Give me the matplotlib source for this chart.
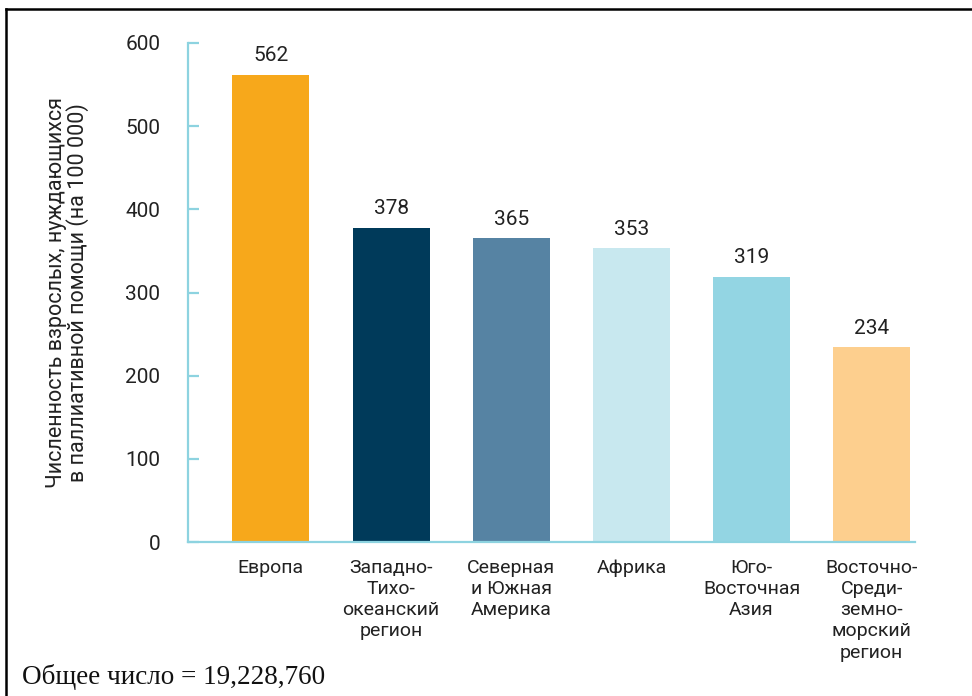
import matplotlib
matplotlib.use("Agg")
import matplotlib.pyplot as plt
from matplotlib.lines import Line2D

categories = ["Европа", "Западно-\nТихо-\nокеанский\nрегион", "Северная\nи Южная\nАмерика",
              "Африка", "Юго-\nВосточная\nАзия", "Восточно-\nСреди-\nземно-\nморский\nрегион"]
values = [562, 378, 365, 353, 319, 234]
colors = ["#F7A81B", "#003A5A", "#5683A3", "#C8E8EF", "#93D5E3", "#FDCF8E"]
yticks = [0, 100, 200, 300, 400, 500, 600]
ylabel = "Численность взрослых, нуждающихся\nв паллиативной помощи (на 100 000)"
footer = "Общее число = 19,228,760"

plt.rcParams['font.family'] = ['Roboto', 'DejaVu Sans']

fig = plt.figure(figsize=(9.72, 6.96), dpi=100)
ax = fig.add_axes([188/972, 1-542/696, (915-188)/972, (542-43)/696])

x = list(range(len(categories)))
bars = ax.bar(x, values, width=0.64, color=colors, zorder=2)
for xi, v in zip(x, values):
    ax.annotate(str(v), (xi, v), xytext=(0, 7), textcoords='offset points',
                ha='center', va='bottom', fontsize=15, color='#222222')

ax.set_xlim(-0.69, 5.36)
ax.set_ylim(0, 600)
ax.set_yticks(yticks)
ax.set_yticklabels([str(t) for t in yticks], fontsize=15, color='#222222')
ax.set_xticks(x)
ax.set_xticklabels(categories, fontsize=14, color='#222222', linespacing=1.23, va='top')
ax.tick_params(axis='x', length=0, pad=12)
ax.tick_params(axis='y', direction='in', length=8, width=1.6, color='#8DD3E0', pad=20)

for s in ['top', 'right']:
    ax.spines[s].set_visible(False)
for s in ['left', 'bottom']:
    ax.spines[s].set_color('#8DD3E0')
    ax.spines[s].set_linewidth(1.6)

ax.set_ylabel(ylabel, fontsize=15.5, color='#222222', linespacing=0.95, labelpad=26)

fig.add_artist(Line2D([5.5/972, 5.5/972], [0, 1-8.5/696], transform=fig.transFigure, color='black', lw=1.8))
fig.add_artist(Line2D([5.5/972, 1], [1-8.5/696, 1-8.5/696], transform=fig.transFigure, color='black', lw=1.8))

fig.text(22/972, 1-677/696, footer, family=['Liberation Serif', 'DejaVu Serif'], fontsize=19.5,
         ha='left', va='center', color='#111111')

fig.savefig("out.png", dpi=100)
